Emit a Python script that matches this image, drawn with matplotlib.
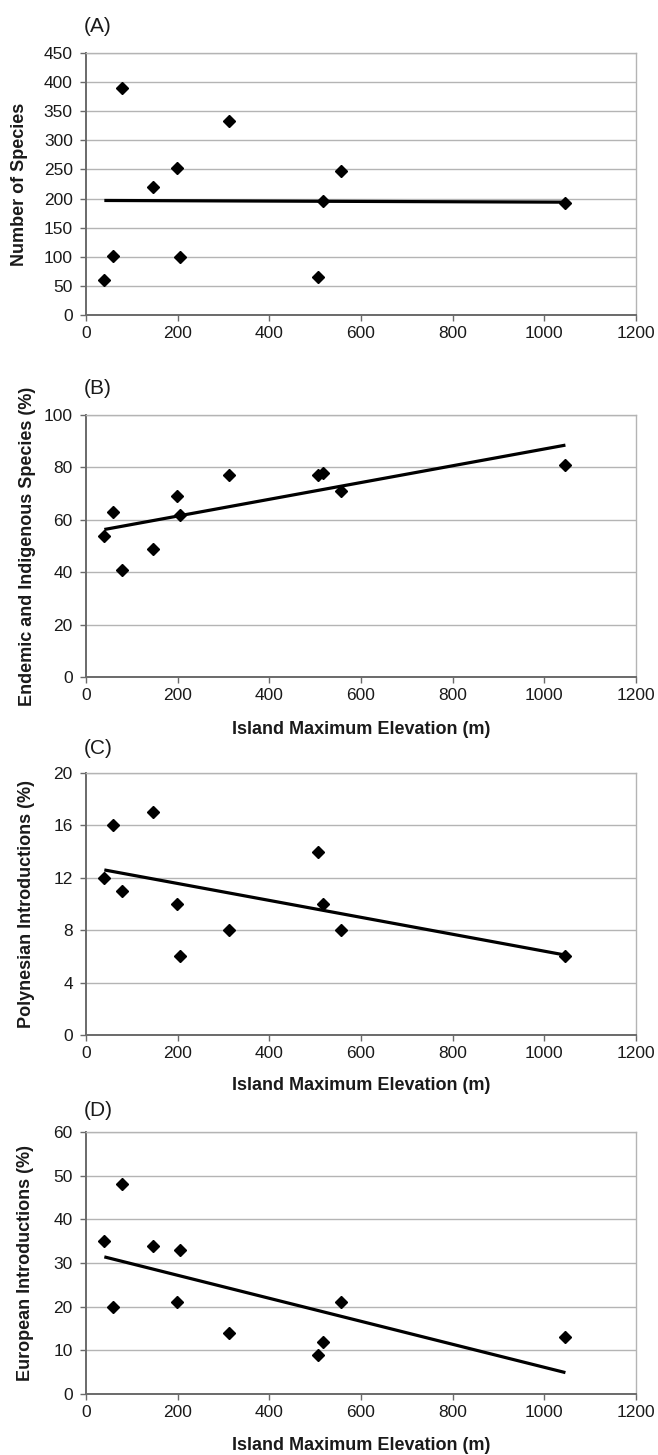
import matplotlib
matplotlib.use("Agg")
import matplotlib.pyplot as plt
import numpy as np

plt.rcParams['font.family'] = ['Liberation Sans', 'DejaVu Sans']

# Island maximum elevation (m), same islands in every panel
elevation = [40, 59, 79, 146, 199, 204, 311, 506, 518, 557, 1046]

# (A) number of species
species_a = [60, 102, 390, 219, 252, 99, 334, 65, 195, 248, 193]
# (B) endemic and indigenous species (%)
endemic_b = [54, 63, 41, 49, 69, 62, 77, 77, 78, 71, 81]
# (C) Polynesian introductions (%)
polynesian_c = [12, 16, 11, 17, 10, 6, 8, 14, 10, 8, 6]
# (D) European introductions (%)
european_d = [35, 20, 48, 34, 21, 33, 14, 9, 12, 21, 13]

# trend line end values (at min and max elevation)
trend_x = [40, 1046]
trend_a = [196.7, 193.8]
trend_b = [56.3, 88.5]
trend_c = [12.6, 6.1]
trend_d = [31.4, 4.9]

panel_letters = ['(A)', '(B)', '(C)', '(D)']
ylabels = ['Number of Species', 'Endemic and Indigenous Species (%)',
           'Polynesian Introductions (%)', 'European Introductions (%)']
xlabel = 'Island Maximum Elevation (m)'
ymax = [450, 100, 20, 60]
ystep = [50, 20, 4, 10]
xticks = [0, 200, 400, 600, 800, 1000, 1200]

W, H = 658, 1455
fig = plt.figure(figsize=(W / 100, H / 100), dpi=100)

# axes boxes in pixels: (top, bottom)
boxes = [(53, 315), (415, 677), (773, 1035), (1132, 1394)]
left_px, right_px = 86, 636
ylabel_x = [20, 28, 27, 26]
xlabel_y = [None, 730, 1085, 1445]
letter_y = [27, 389, 749, 1110]

series = [species_a, endemic_b, polynesian_c, european_d]
trends = [trend_a, trend_b, trend_c, trend_d]

grid_col = '#b4b4b4'
spine_col = '#6a6a6a'
txt_col = '#1a1a1a'

for i in range(4):
    top, bot = boxes[i]
    ax = fig.add_axes([left_px / W, 1 - bot / H, (right_px - left_px) / W, (bot - top) / H])
    ax.set_xlim(0, 1200)
    ax.set_ylim(0, ymax[i])
    ax.set_xticks(xticks)
    ax.set_yticks(np.arange(0, ymax[i] + ystep[i] / 2, ystep[i]))
    ax.yaxis.grid(True, color=grid_col, linewidth=1.0)
    ax.set_axisbelow(True)
    for s in ['top', 'right']:
        ax.spines[s].set_color(grid_col)
        ax.spines[s].set_linewidth(1.0)
    for s in ['left', 'bottom']:
        ax.spines[s].set_color(spine_col)
        ax.spines[s].set_linewidth(1.4)
    ax.tick_params(axis='both', direction='out', length=4.0, width=1.0,
                   color=spine_col, labelsize=12.5, labelcolor=txt_col)
    ax.tick_params(axis='y', pad=5.5)
    ax.tick_params(axis='x', pad=4)

    ax.plot(trend_x, trends[i], color='black', linewidth=2.3, solid_capstyle='butt', zorder=2)
    ax.plot(elevation, series[i], linestyle='none', marker='D', markersize=5.9,
            color='black', zorder=3)

    fig.text(84 / W, 1 - letter_y[i] / H, panel_letters[i], fontsize=15,
             ha='left', va='center', color=txt_col)
    fig.text(ylabel_x[i] / W, 1 - (top + bot) / 2 / H, ylabels[i], fontsize=13,
             fontweight='bold', rotation=90, ha='center', va='center', color=txt_col)
    if xlabel_y[i] is not None:
        fig.text((left_px + right_px) / 2 / W, 1 - xlabel_y[i] / H, xlabel, fontsize=13,
                 fontweight='bold', ha='center', va='center', color=txt_col)

fig.savefig('out.png', dpi=100, facecolor='white')
